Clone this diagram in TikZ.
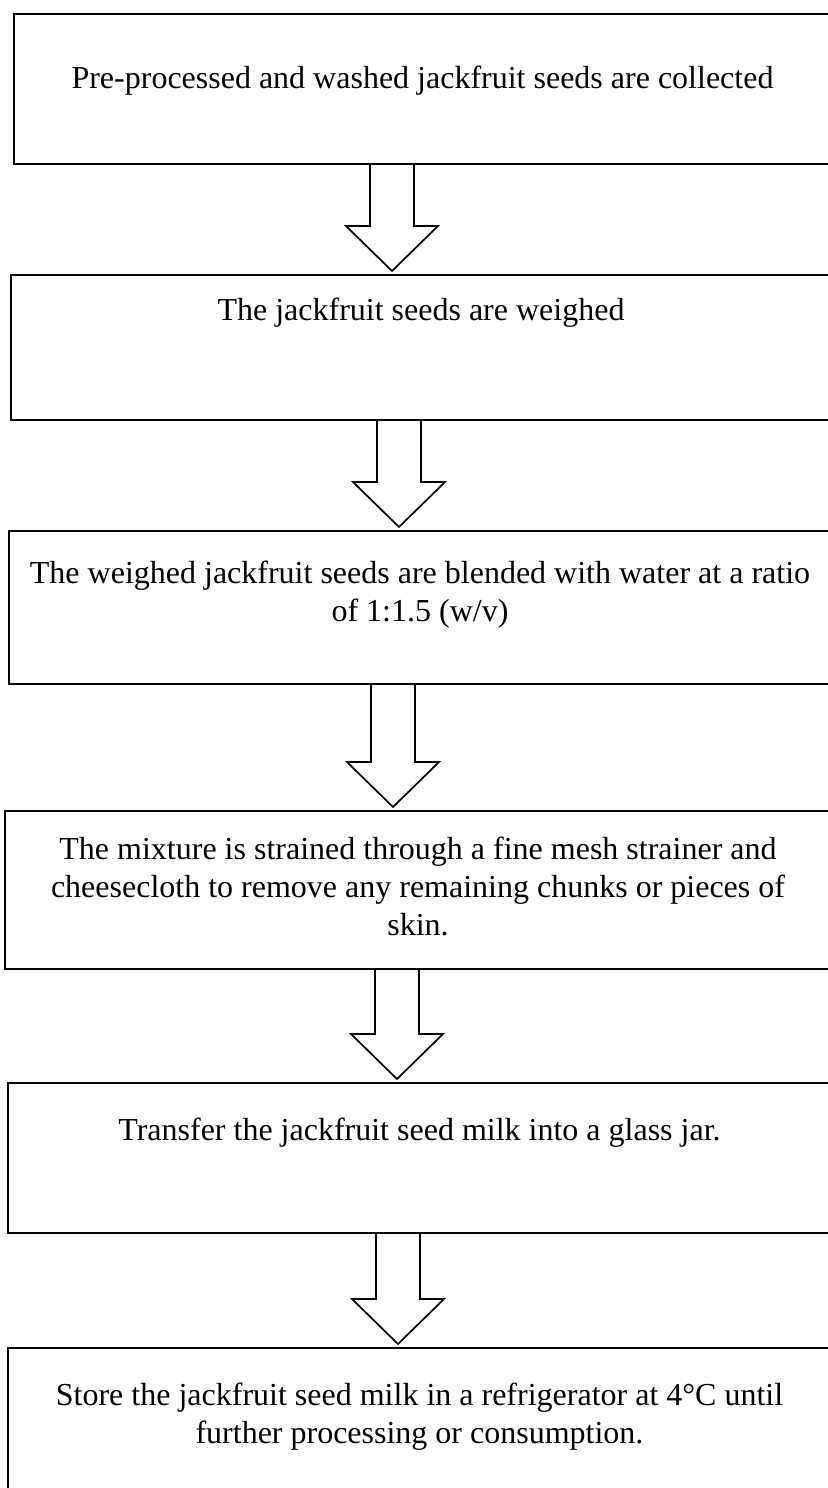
\documentclass[tikz,border=0pt]{standalone}
\usepackage{fontspec}
\setmainfont{Liberation Serif}
\usetikzlibrary{calc}

\tikzset{
  stepbox/.style={draw, line width=0.85pt, inner sep=0pt, outer sep=0pt, anchor=north west},
  steptext/.style={align=center, font=\fontsize{16}{19}\selectfont, inner sep=0pt, anchor=base},
  flowarrow/.style={draw, line width=0.85pt, fill=white, line join=miter}
}

% hollow block arrow from one box down to the next, at a given x
\newcommand{\blockarrow}[3]{%
  \draw[flowarrow] let \p1=(#1.south), \p2=(#2.north), \p3=(#3,0) in
    (\x3-11pt,\y1) -- (\x3-11pt,\y2+24.5pt) -- (\x3-23pt,\y2+24.5pt) -- (\x3,\y2+2pt)
    -- (\x3+23pt,\y2+24.5pt) -- (\x3+11pt,\y2+24.5pt) -- (\x3+11pt,\y1) -- cycle;
}

\begin{document}
\begin{tikzpicture}[x=0.5pt, y=-0.5pt]
  \useasboundingbox (0,0) rectangle (828,1488);

  % boxes (right edges run off the page)
  \node[stepbox, minimum width=408.5pt, minimum height=75pt] (b1) at (14,14) {};
  \node[stepbox, minimum width=410pt, minimum height=72.5pt] (b2) at (11,275) {};
  \node[stepbox, minimum width=411pt, minimum height=76.5pt] (b3) at (9,531) {};
  \node[stepbox, minimum width=413pt, minimum height=79pt] (b4) at (5,811) {};
  \node[stepbox, minimum width=411.5pt, minimum height=75pt] (b5) at (8,1083) {};
  \node[stepbox, minimum width=411.5pt, minimum height=80pt] (b6) at (8,1348) {};

  % texts (base = last line)
  \node[steptext] (t1) at ([yshift=-37pt]b1.north) {Pre-processed and washed jackfruit seeds are collected};
  \node[steptext] (t2) at ([yshift=-22.5pt]b2.north) {The jackfruit seeds are weighed};
  \node[steptext] (t3) at ([yshift=-45pt]b3.north) {The weighed jackfruit seeds are blended with water at a ratio\\of 1:1.5 (w/v)};
  \node[steptext] (t4) at ([yshift=-62pt]b4.north) {The mixture is strained through a fine mesh strainer and\\cheesecloth to remove any remaining chunks or pieces of\\skin.};
  \node[steptext] (t5) at ([yshift=-28.5pt]b5.north) {Transfer the jackfruit seed milk into a glass jar.};
  \node[steptext] (t6) at ([yshift=-47.5pt]b6.north) {Store the jackfruit seed milk in a refrigerator at 4°C until\\further processing or consumption.};

  % arrows
  \blockarrow{b1}{b2}{392}
  \blockarrow{b2}{b3}{399}
  \blockarrow{b3}{b4}{393}
  \blockarrow{b4}{b5}{397}
  \blockarrow{b5}{b6}{398}
\end{tikzpicture}
\end{document}
